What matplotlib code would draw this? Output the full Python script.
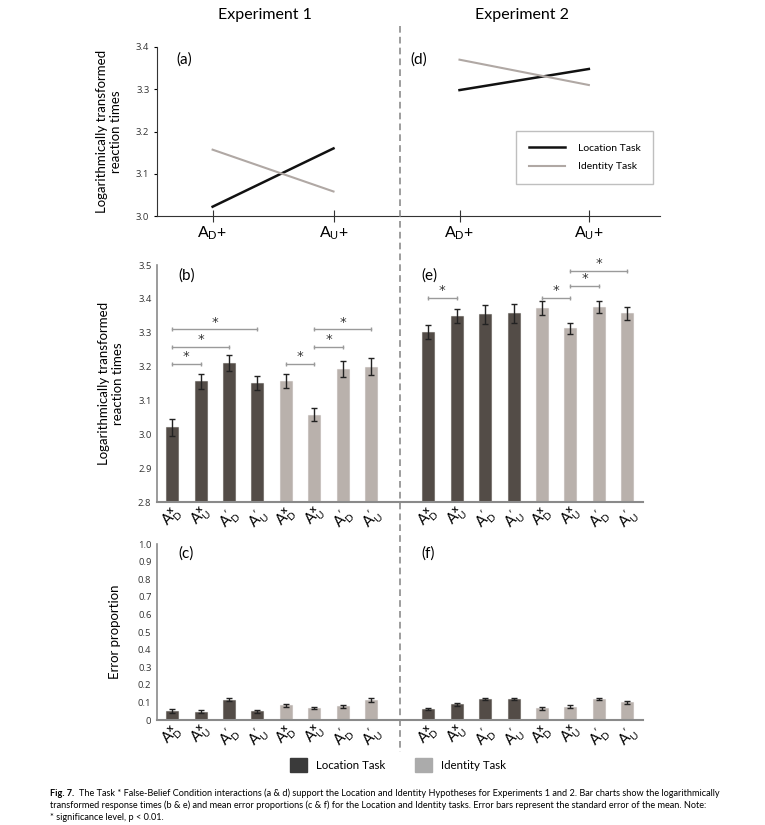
import numpy as np
import matplotlib
matplotlib.use('Agg')
import matplotlib.pyplot as plt
from matplotlib.patches import Patch
from matplotlib.lines import Line2D

plt.rcParams['font.family'] = ['Lato', 'DejaVu Sans']
plt.rcParams['mathtext.fontset'] = 'custom'
plt.rcParams['mathtext.rm'] = 'Lato'
plt.rcParams['mathtext.it'] = 'Lato'
plt.rcParams['mathtext.bf'] = 'Lato:bold'

# ===== data =====
line_labels = [r'$\mathregular{A_D}$+', r'$\mathregular{A_U}$+']
loc_line_e1 = [3.022, 3.160]
id_line_e1 = [3.157, 3.058]
loc_line_e2 = [3.298, 3.348]
id_line_e2 = [3.370, 3.310]

conds = [r'$\mathregular{A_D^{\mathbf{x}}}$', r'$\mathregular{A_U^{\mathbf{x}}}$',
         r'$\mathregular{A_D^{\prime}}$', r'$\mathregular{A_U^{\prime}}$']
bar_labels = conds + conds  # location task then identity task

rt_e1 = [3.021, 3.157, 3.210, 3.151, 3.157, 3.058, 3.192, 3.200]
rt_e1_se = [0.025, 0.022, 0.023, 0.020, 0.021, 0.019, 0.024, 0.025]
rt_e2 = [3.301, 3.350, 3.355, 3.357, 3.372, 3.313, 3.377, 3.357]
rt_e2_se = [0.021, 0.020, 0.028, 0.028, 0.021, 0.017, 0.018, 0.019]

err_e1 = [0.052, 0.048, 0.115, 0.050, 0.083, 0.068, 0.077, 0.115]
err_e1_se = [0.011, 0.010, 0.009, 0.009, 0.008, 0.008, 0.008, 0.011]
err_e2 = [0.065, 0.090, 0.118, 0.118, 0.066, 0.076, 0.118, 0.100]
err_e2_se = [0.006, 0.008, 0.006, 0.006, 0.008, 0.007, 0.006, 0.007]

# significance brackets: (bar from, bar to, height)
sig_e1 = [(0, 1, 3.208), (0, 2, 3.259), (0, 3, 3.310),
          (4, 5, 3.208), (5, 6, 3.259), (5, 7, 3.310)]
sig_e2 = [(0, 1, 3.404), (4, 5, 3.404), (5, 6, 3.438), (5, 7, 3.482)]

dark = '#534c47'
light = '#b9b1ac'
spine_col = '#8a8a8a'
tick_font = {'family': 'Open Sans', 'size': 6.8}

W, H = 765, 825
fig = plt.figure(figsize=(W / 100, H / 100), dpi=100)


def box(l, r, t, b):
    return [l / W, 1 - b / H, (r - l) / W, (b - t) / H]


# ===== top line charts =====
ax_a = fig.add_axes(box(157, 400, 47, 216))
ax_d = fig.add_axes(box(400, 660, 47, 216))
for ax, loc, ident in [(ax_a, loc_line_e1, id_line_e1), (ax_d, loc_line_e2, id_line_e2)]:
    ax.plot([0, 1], loc, color='#111111', lw=1.8, label='Location Task')
    ax.plot([0, 1], ident, color='#b0a8a4', lw=1.5, label='Identity Task')
    ax.set_ylim(3.0, 3.4)
    ax.set_xlim(-0.46, 1.55)
    ax.set_xticks([0, 1])
    ax.set_xticklabels(line_labels, fontsize=11.5)
    ax.tick_params(axis='x', direction='inout', length=8, color='#333333', pad=2)
    for s in ['top', 'right']:
        ax.spines[s].set_visible(False)
    ax.spines['bottom'].set_color('#333333')
    ax.spines['left'].set_color('#333333')
ax_a.set_yticks([3.0, 3.1, 3.2, 3.3, 3.4])
ax_a.set_yticklabels(['3.0', '3.1', '3.2', '3.3', '3.4'], fontdict=tick_font, color='#333333')
ax_a.tick_params(axis='y', length=2)
ax_a.set_ylabel('Logarithmically transformed\nreaction times', fontsize=9.5, labelpad=10)
ax_d.spines['left'].set_visible(False)
ax_d.set_yticks([])
ax_d.legend(loc='upper left', bbox_to_anchor=(0.427, 0.535), fontsize=7.5, frameon=True,
            fancybox=False, edgecolor='#b0b0b0', handlelength=3.5, borderpad=1.2,
            labelspacing=0.9, handletextpad=1.2)
ax_a.text(0.08, 0.97, '(a)', transform=ax_a.transAxes, fontsize=11, va='top')
ax_d.text(0.04, 0.97, '(d)', transform=ax_d.transAxes, fontsize=11, va='top')

# ===== bar charts =====
xpos = np.r_[np.arange(8), np.arange(8) + 9]
colors = [dark] * 4 + [light] * 4 + [dark] * 4 + [light] * 4


def bar_panel(ax, vals, ses):
    ax.bar(xpos, vals, width=0.42, color=colors,
           edgecolor=[c + '80' for c in colors], linewidth=0.8)
    ax.errorbar(xpos, vals, yerr=ses, fmt='none', ecolor='#222222',
                elinewidth=1, capsize=2.5, capthick=1)
    ax.set_xlim(-0.53, 16.55)
    ax.set_xticks(xpos)
    ax.set_xticklabels(bar_labels + bar_labels, rotation=45, fontsize=10.5,
                       ha='center', va='top')
    ax.tick_params(axis='x', length=0, pad=1)
    ax.tick_params(axis='y', length=0, pad=4)
    for s in ['top', 'right']:
        ax.spines[s].set_visible(False)
    ax.spines['bottom'].set_color(spine_col)
    ax.spines['bottom'].set_linewidth(1.5)
    ax.spines['left'].set_color(spine_col)
    ax.spines['left'].set_linewidth(1.2)


ax_b = fig.add_axes(box(157, 643, 265, 502))
bar_panel(ax_b, rt_e1 + rt_e2, rt_e1_se + rt_e2_se)
ax_b.set_ylim(2.8, 3.5)
ax_b.set_yticks(np.arange(2.8, 3.51, 0.1))
ax_b.set_yticklabels(['%.1f' % v for v in np.arange(2.8, 3.51, 0.1)], fontdict=tick_font,
                     color='#333333')
ax_b.set_ylabel('Logarithmically transformed\nreaction times', fontsize=9.5, labelpad=10)
ax_b.text(0.045, 0.985, '(b)', transform=ax_b.transAxes, fontsize=11, va='top')
ax_b.text(0.545, 0.985, '(e)', transform=ax_b.transAxes, fontsize=11, va='top')

for offset, sigs in [(0, sig_e1), (9, sig_e2)]:
    for i, j, y in sigs:
        x1, x2 = i + offset, j + offset
        ax_b.plot([x1, x2], [y, y], color='#9a9a9a', lw=1)
        ax_b.plot([x1, x2], [y, y], ls='none', marker='|', ms=3.5, color='#9a9a9a', mew=1)
        ax_b.text((x1 + x2) / 2, y + 0.002, '*', ha='center', va='bottom', fontsize=9.5,
                  color='#333333', family='DejaVu Sans')

ax_c = fig.add_axes(box(157, 643, 544, 720))
bar_panel(ax_c, err_e1 + err_e2, err_e1_se + err_e2_se)
ax_c.set_ylim(0, 1.0)
ax_c.set_yticks(np.arange(0, 1.01, 0.1))
ax_c.set_yticklabels(['0'] + ['%.1f' % v for v in np.arange(0.1, 1.01, 0.1)],
                     fontdict=tick_font, color='#333333')
ax_c.set_ylabel('Error proportion', fontsize=9.5, labelpad=12)
ax_c.text(0.045, 0.985, '(c)', transform=ax_c.transAxes, fontsize=11, va='top')
ax_c.text(0.545, 0.985, '(f)', transform=ax_c.transAxes, fontsize=11, va='top')

# ===== titles, divider, legend, caption =====
fig.text(265 / W, 1 - 15 / H, 'Experiment 1', ha='center', va='center', fontsize=11.5)
fig.text(522 / W, 1 - 15 / H, 'Experiment 2', ha='center', va='center', fontsize=11.5)
fig.add_artist(Line2D([400 / W, 400 / W], [1 - 26 / H, 1 - 752 / H], color='#8c8c8c',
                      lw=1.2, ls=(0, (4, 2.5))))

fig.legend(handles=[Patch(color='#3a3a3a', label='Location Task'),
                    Patch(color='#ababab', label='Identity Task')],
           loc='center', bbox_to_anchor=(398 / W, 1 - 765 / H), ncol=2, frameon=False,
           fontsize=8.3, handlelength=1.5, handleheight=1.6, columnspacing=2.5,
           handletextpad=0.8)

cap1 = ('The Task * False-Belief Condition interactions (a & d) support the Location and Identity '
        'Hypotheses for Experiments 1 and 2. Bar charts show the logarithmically')
cap2 = ('transformed response times (b & e) and mean error proportions (c & f) for the Location and '
        'Identity tasks. Error bars represent the standard error of the mean. Note:')
cap3 = '* significance level, p < 0.01.'
fig.text(50 / W, 1 - 793 / H, 'Fig. 7.', fontsize=6.6, weight='bold', va='center')
fig.text(79 / W, 1 - 793 / H, cap1, fontsize=6.6, va='center')
fig.text(50 / W, 1 - 805 / H, cap2, fontsize=6.6, va='center')
fig.text(50 / W, 1 - 817 / H, cap3, fontsize=6.6, va='center')

fig.savefig('out.png', dpi=100)
